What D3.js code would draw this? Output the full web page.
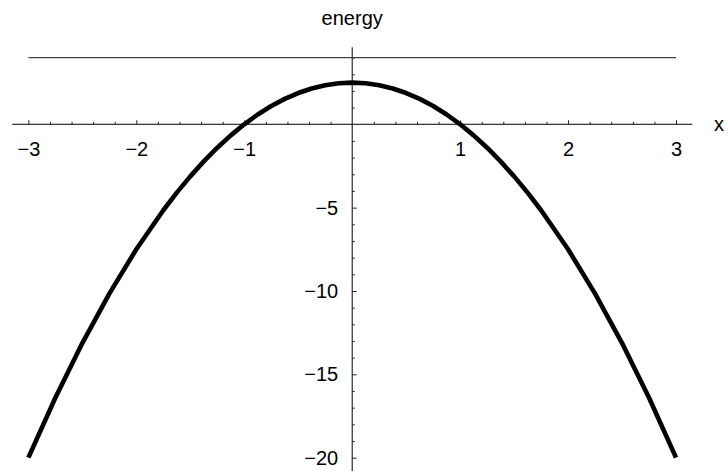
<!DOCTYPE html>
<html>
<head>
<meta charset="utf-8">
<script src="https://cdn.jsdelivr.net/npm/d3@7/dist/d3.min.js"></script>
<style>
  html, body { margin: 0; padding: 0; background: #fff; }
  svg { display: block; }
  text { font-family: "Liberation Sans", Arial, Helvetica, sans-serif; fill: #000; }
</style>
</head>
<body>
<svg id="chart" width="728" height="471"></svg>
<script>
// Sampled energy curve over x (denser sampling around the peak)
const xValues = [-3, -2.75, -2.5, -2.25, -2, -1.75, -1.625, -1.5, -1.375, -1.25, -1.125, -1,
                 -0.875, -0.75, -0.625, -0.5, -0.375, -0.25, -0.125, 0,
                 0.125, 0.25, 0.375, 0.5, 0.625, 0.75, 0.875,
                 1, 1.125, 1.25, 1.375, 1.5, 1.625, 1.75, 2, 2.25, 2.5, 2.75, 3];
const energy = [-20, -16.406, -13.125, -10.156, -7.5, -5.156, -4.102, -3.125, -2.227, -1.406, -0.664, 0,
                0.586, 1.094, 1.523, 1.875, 2.148, 2.344, 2.461, 2.5,
                2.461, 2.344, 2.148, 1.875, 1.523, 1.094, 0.586,
                0, -0.664, -1.406, -2.227, -3.125, -4.102, -5.156, -7.5, -10.156, -13.125, -16.406, -20];
// Constant reference level drawn across the plotted x range
const levelX = [-3, 3];
const levelY = [4, 4];

const xMajor = [-3, -2, -1, 1, 2, 3];
const yMajor = [-20, -15, -10, -5];

const fmt = v => (v < 0 ? "\u2212" + Math.abs(v) : String(v));

const svg = d3.select("#chart");
const x = d3.scaleLinear().domain([-3.15, 3.15]).range([12.2, 692.2]);
const y = d3.scaleLinear().domain([-20.8, 4.6]).range([471, 47.6]);

const x0 = x(0), y0 = y(0);

// minor tick positions
const xMinor = d3.range(-30, 31, 2).map(v => v / 10).filter(v => Math.abs(v - Math.round(v)) > 1e-9);
const yMinor = d3.range(-20, 5, 1).filter(v => v % 5 !== 0);

// x axis
const gx = svg.append("g").attr("transform", `translate(0,${y0})`);
gx.append("line").attr("x1", x.range()[0]).attr("x2", x.range()[1])
  .attr("stroke", "#000").attr("stroke-width", 1);
gx.append("g").call(d3.axisBottom(x).tickValues(xMinor).tickSize(-2.5).tickFormat(""))
  .call(g => g.select(".domain").remove())
  .call(g => g.selectAll("line").attr("stroke", "#222"));
gx.append("g").call(d3.axisBottom(x).tickValues(xMajor).tickSize(-4).tickPadding(17.4).tickFormat(fmt))
  .call(g => g.select(".domain").remove())
  .call(g => g.selectAll("line").attr("stroke", "#222"))
  .call(g => g.selectAll("text").attr("font-size", 20).attr("font-family", null));

// y axis
const gy = svg.append("g").attr("transform", `translate(${x0},0)`);
gy.append("line").attr("y1", y.range()[1] - 0.3).attr("y2", y.range()[0])
  .attr("stroke", "#000").attr("stroke-width", 1);
gy.append("g").call(d3.axisLeft(y).tickValues(yMinor).tickSize(-2.5).tickFormat(""))
  .call(g => g.select(".domain").remove())
  .call(g => g.selectAll("line").attr("stroke", "#222"));
gy.append("g").call(d3.axisLeft(y).tickValues(yMajor).tickSize(-4.5).tickPadding(14).tickFormat(fmt))
  .call(g => g.select(".domain").remove())
  .call(g => g.selectAll("line").attr("stroke", "#222"))
  .call(g => g.selectAll("text").attr("font-size", 20).attr("font-family", null));

// reference level
svg.append("path")
  .datum(levelX.map((v, i) => [v, levelY[i]]))
  .attr("fill", "none").attr("stroke", "#444").attr("stroke-width", 1.3)
  .attr("d", d3.line().x(d => x(d[0])).y(d => y(d[1])));

// energy curve
svg.append("path")
  .datum(xValues.map((v, i) => [v, energy[i]]))
  .attr("fill", "none").attr("stroke", "#000").attr("stroke-width", 4.6)
  .attr("stroke-linejoin", "round").attr("stroke-linecap", "butt")
  .attr("d", d3.line().x(d => x(d[0])).y(d => y(d[1])));

// axis titles
svg.append("text").attr("x", x0).attr("y", 25).attr("text-anchor", "middle")
  .attr("font-size", 20).text("energy");
svg.append("text").attr("x", 714).attr("y", y0 + 7).attr("text-anchor", "start")
  .attr("font-size", 20).text("x");
</script>
</body>
</html>
